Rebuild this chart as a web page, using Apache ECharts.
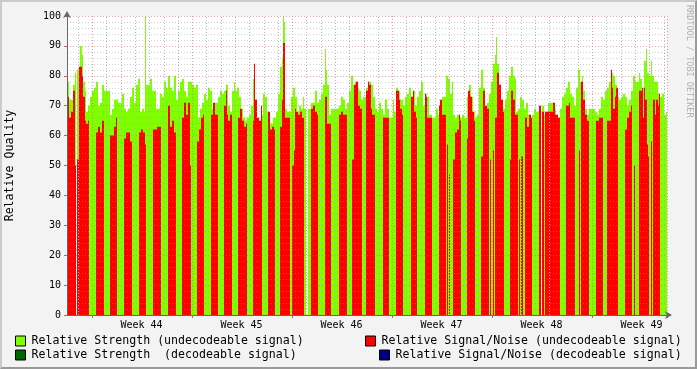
<!DOCTYPE html>
<html><head><meta charset="utf-8">
<script src="https://cdn.jsdelivr.net/npm/echarts@6/dist/echarts.min.js"></script>
<style>
html,body{margin:0;padding:0;background:#f3f3f3;}
#c{position:absolute;left:0;top:0;width:697px;height:369px;}
#frame{position:absolute;left:0;top:0;width:697px;height:369px;box-sizing:border-box;border-top:2px solid #cbcbcb;border-left:2px solid #cbcbcb;border-right:2px solid #999;border-bottom:2px solid #999;pointer-events:none;}
</style></head>
<body><div id="c"></div><div id="frame"></div>
<script>
// ---- data ----
const N = 600;                 // samples across the time range
const startDay = -1.73;        // day offset of sample 0 relative to Monday of first labelled week
const stepDays = 0.07;         // days per sample
const weekLabels = ['Week 44','Week 45','Week 46','Week 47','Week 48','Week 49'];
const seriesNames = [
  'Relative Strength (undecodeable signal)',
  'Relative Strength  (decodeable signal)',
  'Relative Signal/Noise (undecodeable signal)',
  'Relative Signal/Noise (decodeable signal)'
];
// run-length encoded samples: [count, value]
const strengthUndecRuns = [[2,78],[4,72],[2,77],[1,81],[1,null],[2,82],[1,83],[2,90],[1,87],[2,78],[1,75],[2,68],[2,70],[2,73],[2,75],[2,76],[2,78],[2,70],[2,71],[2,77],[6,75],[2,67],[2,69],[4,72],[4,71],[2,74],[2,69],[2,68],[2,69],[2,73],[2,76],[2,71],[2,77],[2,79],[2,68],[2,69],[1,68],[1,100],[4,77],[2,79],[4,75],[4,69],[2,74],[2,73],[2,78],[2,76],[2,80],[2,76],[2,75],[2,80],[2,72],[2,75],[2,78],[2,79],[2,75],[2,73],[4,78],[2,77],[2,76],[2,77],[2,66],[2,69],[2,71],[2,74],[2,72],[2,76],[2,75],[2,69],[4,71],[2,73],[2,75],[2,74],[2,75],[2,77],[2,70],[2,68],[2,75],[1,78],[2,75],[2,76],[2,73],[2,69],[2,66],[2,65],[2,66],[2,67],[2,70],[2,79],[2,72],[2,66],[2,65],[2,67],[2,74],[2,73],[2,68],[4,64],[3,66],[2,68],[2,74],[2,83],[1,86],[1,100],[1,98],[2,69],[4,68],[2,73],[2,76],[2,73],[2,68],[2,70],[2,69],[1,73],[2,69],[2,null],[3,69],[4,71],[2,75],[2,71],[2,72],[2,74],[2,77],[1,89],[1,82],[2,77],[2,67],[8,69],[2,70],[2,73],[2,72],[2,69],[2,71],[2,75],[2,80],[2,77],[2,78],[2,76],[2,75],[2,72],[3,73],[2,76],[3,78],[2,77],[2,73],[2,69],[2,68],[2,71],[2,69],[2,67],[2,72],[2,69],[4,66],[1,72],[2,68],[2,76],[2,75],[3,72],[2,70],[2,73],[2,74],[2,76],[2,73],[2,75],[2,70],[2,73],[2,75],[2,78],[2,70],[2,74],[2,73],[3,67],[4,66],[2,69],[2,67],[2,70],[4,73],[2,80],[2,79],[2,74],[1,78],[2,67],[2,66],[3,67],[2,66],[2,67],[3,66],[2,73],[2,77],[2,73],[2,68],[2,66],[2,67],[2,76],[2,82],[2,76],[2,70],[2,71],[2,74],[2,78],[2,84],[1,87],[1,93],[2,84],[2,77],[2,72],[2,69],[2,72],[2,75],[2,80],[2,83],[2,80],[1,79],[2,68],[2,69],[2,73],[2,72],[2,69],[2,71],[2,67],[2,66],[2,67],[2,69],[4,68],[1,70],[1,null],[2,70],[2,67],[2,68],[6,71],[2,69],[2,67],[2,66],[2,69],[2,73],[2,74],[2,76],[2,78],[2,74],[2,73],[2,70],[2,76],[2,82],[2,78],[1,80],[2,75],[2,69],[2,67],[6,69],[2,68],[2,67],[2,69],[2,73],[2,72],[2,75],[2,76],[2,78],[2,81],[2,80],[2,77],[2,73],[2,72],[2,73],[2,74],[2,73],[2,70],[2,72],[2,75],[2,80],[4,78],[1,81],[2,79],[2,76],[2,85],[1,89],[2,81],[2,80],[1,85],[2,80],[4,78],[2,74],[2,73],[2,74],[2,67],[1,68]];
const snrUndecRuns = [[2,73],[2,66],[2,68],[2,75],[1,50],[1,null],[2,52],[3,83],[1,80],[2,73],[1,65],[2,64],[1,65],[7,null],[2,61],[2,63],[2,61],[2,65],[6,null],[4,60],[2,63],[1,66],[7,null],[2,59],[4,61],[2,58],[7,null],[2,61],[2,62],[2,61],[1,57],[7,null],[4,62],[4,63],[7,null],[2,70],[2,63],[2,65],[2,61],[6,null],[2,66],[2,71],[2,67],[2,71],[1,50],[6,null],[2,58],[2,62],[2,66],[1,67],[7,null],[2,67],[2,71],[3,67],[6,null],[2,70],[1,75],[1,67],[2,65],[2,67],[6,null],[2,66],[2,69],[2,65],[2,63],[1,64],[6,null],[1,65],[1,84],[2,72],[2,66],[2,65],[1,70],[6,null],[2,68],[2,62],[2,63],[1,62],[5,null],[2,63],[1,72],[2,91],[5,66],[2,null],[2,50],[1,55],[1,69],[2,68],[2,67],[2,68],[2,66],[7,null],[2,69],[2,70],[2,68],[1,67],[7,null],[2,73],[4,64],[8,null],[2,67],[2,68],[4,67],[5,null],[2,52],[2,77],[2,78],[2,70],[2,69],[4,null],[2,75],[1,78],[2,77],[1,69],[3,67],[8,null],[6,66],[7,null],[3,75],[1,72],[2,69],[1,67],[8,null],[2,73],[1,75],[2,68],[1,66],[8,null],[1,74],[1,73],[5,66],[7,null],[1,70],[2,72],[4,67],[1,null],[1,57],[1,null],[1,47],[3,null],[2,52],[2,61],[2,62],[1,67],[1,65],[6,null],[1,59],[2,75],[2,73],[2,68],[1,65],[6,null],[2,53],[2,75],[2,70],[2,69],[1,null],[1,52],[2,null],[1,55],[1,null],[2,66],[2,81],[2,77],[2,72],[1,68],[6,null],[1,52],[2,75],[2,72],[3,67],[1,null],[1,52],[1,null],[2,53],[2,null],[2,66],[2,63],[2,67],[1,66],[7,null],[2,70],[1,null],[2,68],[1,null],[8,68],[2,71],[3,67],[2,66],[6,null],[3,70],[1,71],[5,66],[4,null],[1,55],[1,null],[2,78],[2,72],[2,67],[2,65],[7,null],[3,65],[4,66],[4,null],[4,65],[1,82],[1,76],[2,69],[1,73],[2,76],[7,null],[2,62],[2,66],[2,68],[1,70],[2,null],[1,50],[4,null],[3,75],[1,76],[1,66],[1,76],[2,72],[1,57],[1,53],[2,null],[1,58],[1,null],[2,72],[1,67],[2,72],[1,70],[1,74],[7,null]];
const strengthDecRuns = [[600,null]];
const snrDecRuns = [[600,null]];

// ---- build ----
function expand(runs){
  const out = [];
  runs.forEach(function(r){ for(let k=0;k<r[0];k++) out.push(r[1]===null?'-':r[1]); });
  while(out.length<N) out.push('-');
  return out.slice(0,N);
}
const cats = []; for(let i=0;i<N;i++) cats.push(String(i));
function dayAt(i){ return startDay + i*stepDays; }
function isDayStart(i){ return i>0 && Math.floor(dayAt(i)) !== Math.floor(dayAt(i-1)); }
function isWeekStart(i){ return i>0 && Math.floor(dayAt(i)/7) !== Math.floor(dayAt(i-1)/7); }
function weekIdx(i){ return Math.floor(dayAt(i)/7); }
function isWeekCenter(i){ const a=dayAt(i), b=dayAt(i+1); const c=weekIdx(i)*7+3.5; return a<=c && b>c; }
const dayLineIdx = [];
for (let i=0;i<N;i++){ if (isDayStart(i) && !isWeekStart(i)) dayLineIdx.push(i); }

const mono = 'DejaVu Sans Mono';
const chart = echarts.init(document.getElementById('c'), null, {renderer:'canvas'});
const colors = ['#7fff00','#006400','#ff0000','#000080'];
const datasets = [strengthUndecRuns, strengthDecRuns, snrUndecRuns, snrDecRuns];

function mkLegend(name, left, top){
  return {data:[name], left:left, top:top, padding:0, itemWidth:10, itemHeight:10, itemGap:0,
    icon:'rect', selectedMode:false,
    itemStyle:{borderColor:'#000', borderWidth:1},
    textStyle:{fontFamily:mono, fontSize:11.6, color:'#000', padding:[0,0,0,1]}};
}
const catAxisBase = {type:'category', data:cats, boundaryGap:true, position:'bottom', z:5};

const series = seriesNames.map(function(name, k){
  return {name:name, type:'bar', xAxisIndex:0, data:expand(datasets[k]), barWidth:1, barGap:'-100%', barCategoryGap:'0%',
    itemStyle:{color:colors[k]}, silent:true, emphasis:{disabled:true}, z:2};
});
// minor vertical (daily) grid lines drawn over the bars
series.push({name:'dayGrid', type:'line', xAxisIndex:0, data:[], silent:true, z:6,
  markLine:{silent:true, symbol:['none','none'], animation:false, precision:0,
    label:{show:false}, emphasis:{disabled:true},
    lineStyle:{color:'#b4b4b4', type:[1,2], width:1, opacity:1},
    data: dayLineIdx.map(function(i){ return [{coord:[i, 0]}, {coord:[i, 100]}]; })}});

chart.setOption({
  animation:false,
  backgroundColor:'transparent',
  grid:{left:67, top:16, width:600, height:299, show:true, backgroundColor:'#ffffff', borderWidth:0,
        containLabel:false, outerBoundsMode:'none'},
  legend:[
    mkLegend(seriesNames[0], 15, 335),
    mkLegend(seriesNames[2], 365, 335),
    mkLegend(seriesNames[1], 15, 349),
    mkLegend(seriesNames[3], 379, 349)
  ],
  xAxis:[Object.assign({}, catAxisBase, {
    axisLine:{show:true, onZero:false, lineStyle:{color:'#666', width:1}, symbol:['none','arrow'], symbolSize:[6,7], symbolOffset:[0,5]},
    axisTick:{show:false},
    axisLabel:{interval:function(i){return isWeekCenter(i);}, formatter:function(v,i){return weekLabels[weekIdx(i)]||'';},
      fontFamily:mono, fontSize:10, color:'#000', margin:5},
    splitLine:{show:false}
  }), Object.assign({}, catAxisBase, {
    axisLine:{show:false},
    axisTick:{show:true, interval:isWeekStart, length:3, lineStyle:{color:'#c06060'}},
    axisLabel:{show:false},
    splitLine:{show:true, interval:isWeekStart, lineStyle:{color:'rgba(220,100,100,0.6)', type:[1,2], width:1}}
  })],
  yAxis:{
    type:'value', min:0, max:100, interval:10, z:5,
    name:'Relative Quality', nameLocation:'middle', nameGap:51, nameRotate:90,
    nameTextStyle:{fontFamily:mono, fontSize:11.6, color:'#000'},
    axisLine:{show:true, lineStyle:{color:'#666', width:1}, symbol:['none','arrow'], symbolSize:[6,7], symbolOffset:[0,5]},
    axisTick:{show:true, length:3, lineStyle:{color:'#c06060'}},
    axisLabel:{fontFamily:mono, fontSize:10, color:'#000', margin:6},
    splitLine:{show:true, lineStyle:{color:'rgba(220,100,100,0.55)', type:[1,2], width:1}},
    minorTick:{show:false, splitNumber:5},
    minorSplitLine:{show:true, lineStyle:{color:'rgba(150,150,150,0.45)', type:[1,2], width:1}}
  },
  series: series,
  graphic:[{type:'text', x:689, y:5, rotation:-Math.PI/2,
    style:{text:'RRDTOOL / TOBI OETIKER', fill:'#b0b0b0', font:'8.5px "DejaVu Sans Mono"', textAlign:'left', textVerticalAlign:'middle'}}]
});
</script></body></html>
